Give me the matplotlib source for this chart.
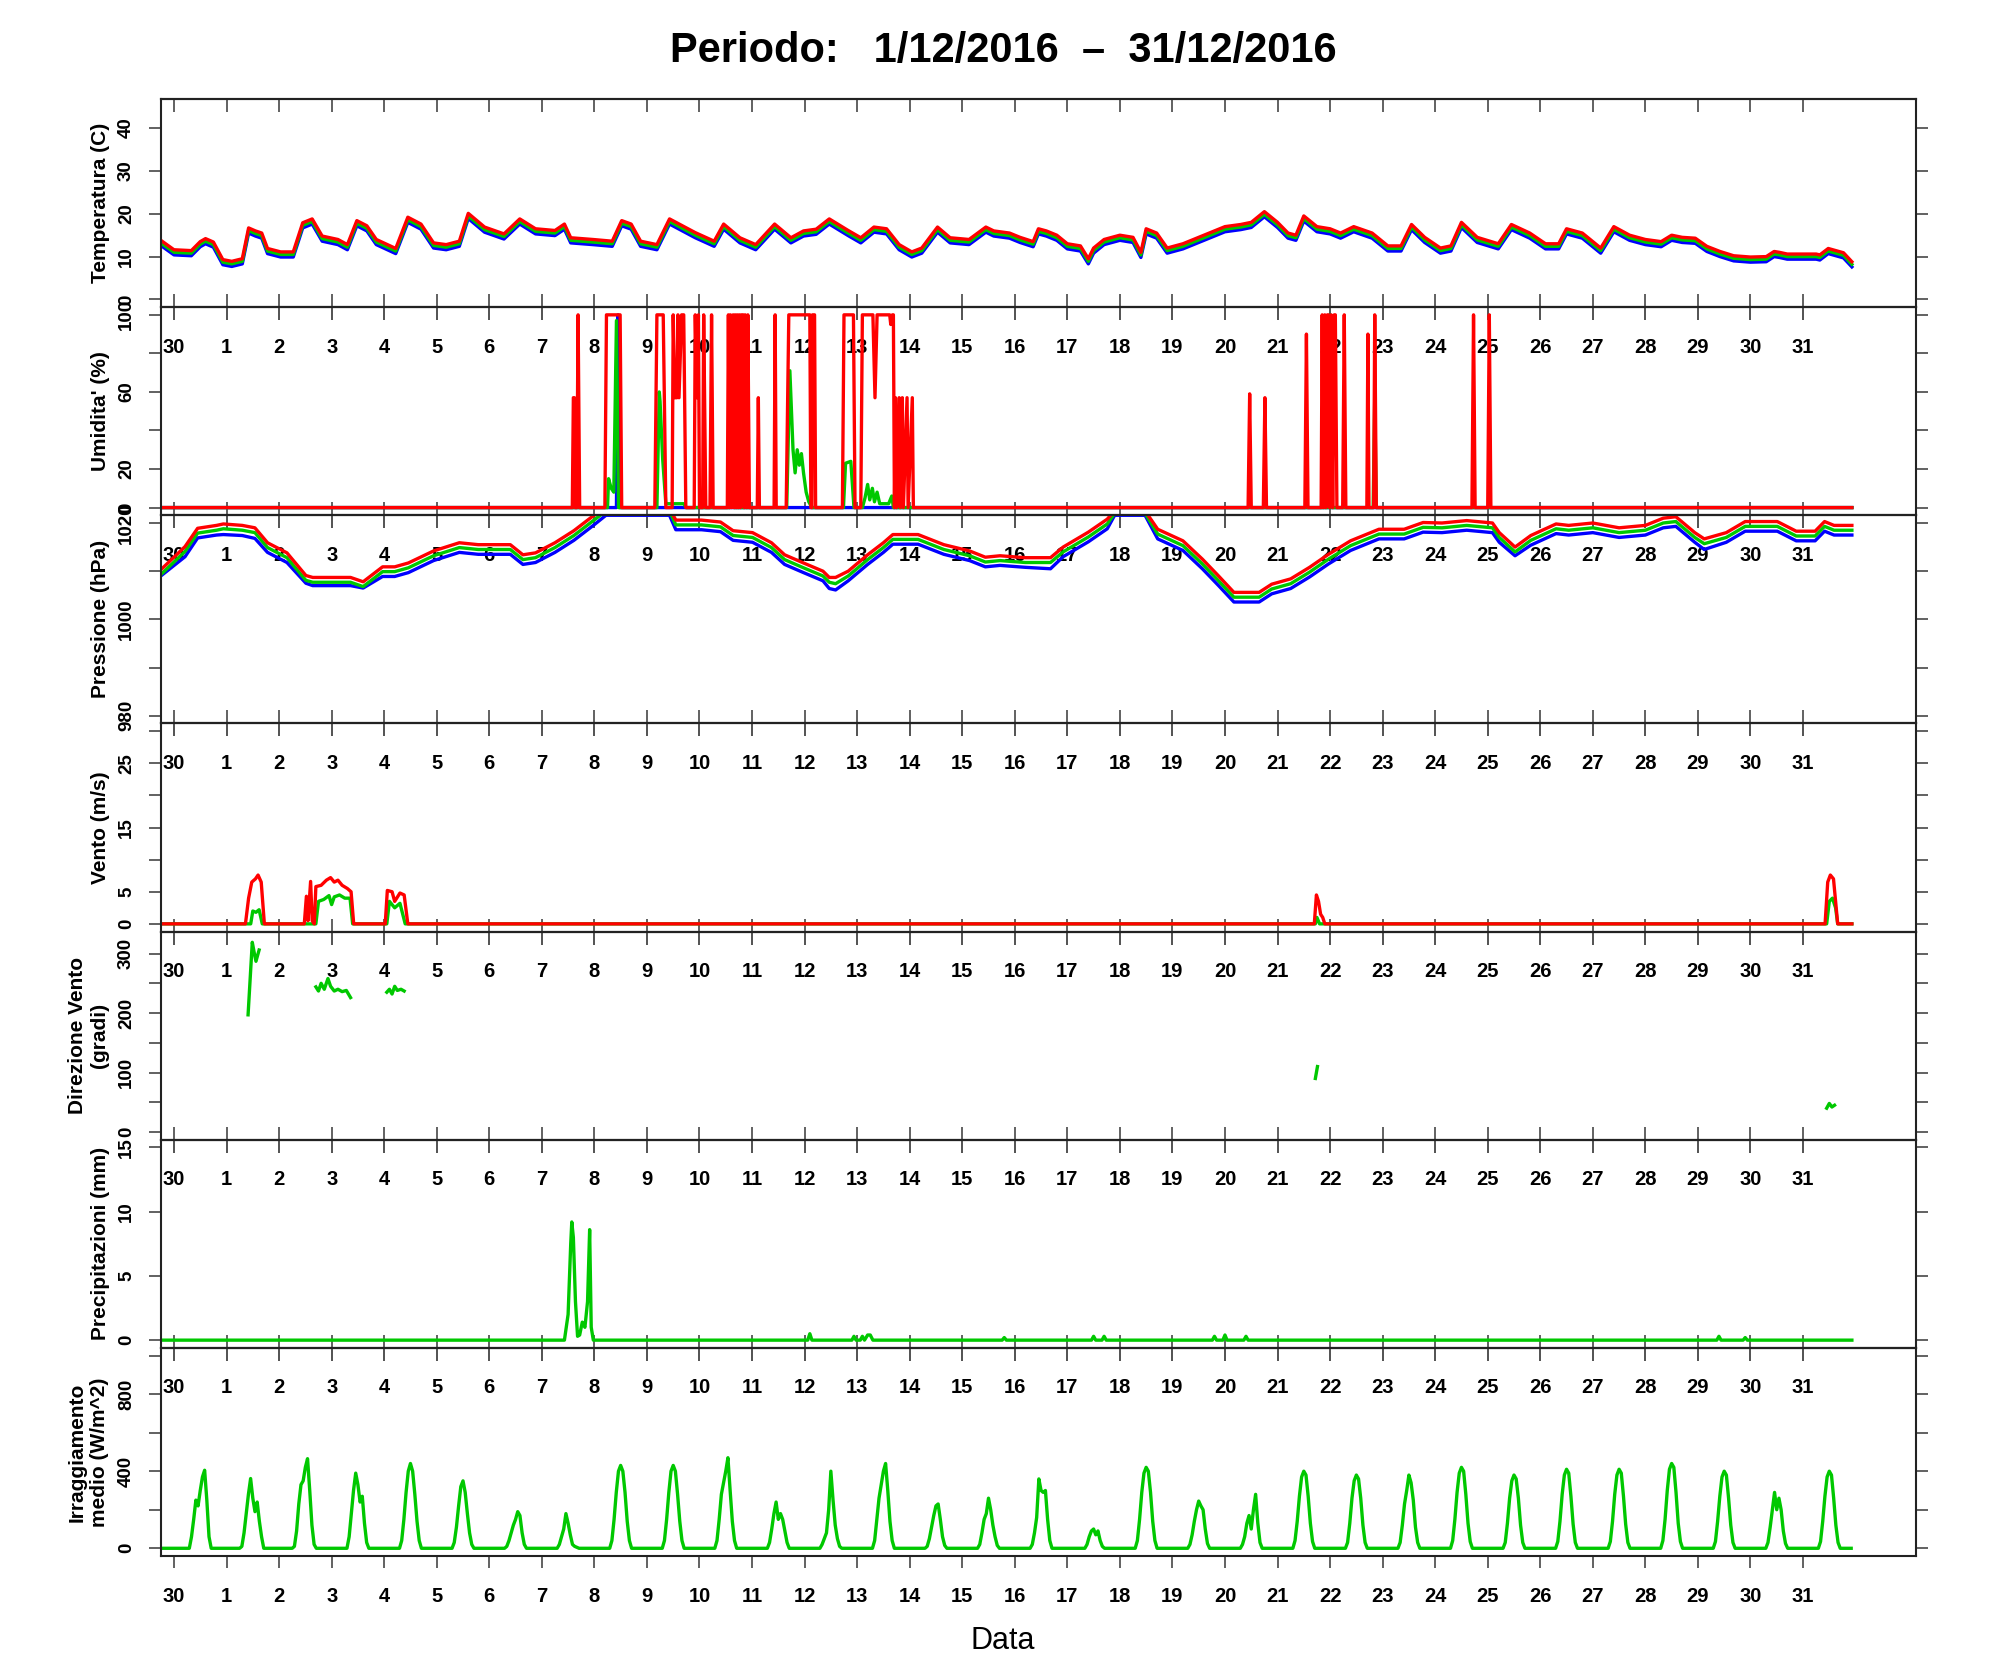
import numpy as np
import matplotlib
matplotlib.use('Agg')
import matplotlib.pyplot as plt

plt.rcParams['font.family'] = ['Liberation Sans', 'DejaVu Sans']
plt.rcParams['font.weight'] = 'bold'

# ---------------- data (x = days since 30 Nov 2016 00:00) ----------------
day_ticks = list(range(32))
day_labels = ['30'] + [str(d) for d in range(1, 32)]

temp_t = [-0.25, 0.0, 0.33, 0.5, 0.6, 0.75, 0.93, 1.1, 1.3, 1.42, 1.55, 1.67, 1.78, 2.03, 2.27, 2.45,
          2.63, 2.82, 3.12, 3.3, 3.48, 3.67, 3.85, 4.22, 4.45, 4.7, 4.94, 5.18, 5.43, 5.6, 5.91, 6.28,
          6.58, 6.88, 7.25, 7.43, 7.55, 7.97, 8.34, 8.52, 8.7, 8.88, 9.19, 9.43, 9.92, 10.28, 10.46,
          10.77, 11.07, 11.43, 11.74, 11.98, 12.22, 12.47, 12.83, 13.07, 13.32, 13.56, 13.8, 14.04,
          14.23, 14.53, 14.77, 15.13, 15.45, 15.6, 15.9, 16.1, 16.35, 16.45, 16.6, 16.8, 17.0, 17.25,
          17.4, 17.5, 17.7, 18.0, 18.25, 18.4, 18.5, 18.7, 18.9, 19.2, 19.5, 19.8, 20.0, 20.3, 20.5,
          20.75, 21.0, 21.2, 21.35, 21.5, 21.75, 22.0, 22.2, 22.45, 22.8, 23.1, 23.35, 23.55, 23.8,
          24.1, 24.3, 24.5, 24.8, 25.2, 25.45, 25.8, 26.1, 26.35, 26.5, 26.8, 27.0, 27.15, 27.4, 27.7,
          28.0, 28.3, 28.5, 28.7, 28.95, 29.17, 29.42, 29.68, 30.0, 30.3, 30.45, 30.55, 30.7, 31.25,
          31.32, 31.48, 31.77, 31.93]
temp_max = [13.8, 11.6, 11.4, 13.5, 14.2, 13.4, 9.3, 8.9, 9.5, 16.7,
            16.0, 15.5, 11.9, 11.1, 11.1, 17.9, 18.8, 14.8, 14.0, 12.8,
            18.4, 17.2, 14.0, 11.9, 19.2, 17.6, 13.2, 12.8, 13.6, 20.1,
            16.9, 15.3, 18.8, 16.5, 16.1, 17.6, 14.4, 14.0, 13.6, 18.4,
            17.6, 13.6, 12.8, 18.8, 15.6, 13.6, 17.6, 14.4, 12.8, 17.6,
            14.4, 16.0, 16.4, 18.8, 16.1, 14.4, 16.9, 16.5, 12.8, 11.1,
            12.0, 16.9, 14.4, 14.0, 16.9, 16.0, 15.5, 14.5, 13.5, 16.5,
            16.0, 15.0, 13.0, 12.5, 9.5, 12.0, 14.0, 15.0, 14.5, 11.0,
            16.5, 15.5, 12.0, 13.0, 14.5, 16.0, 17.0, 17.5, 18.0, 20.5,
            18.0, 15.5, 15.0, 19.5, 17.0, 16.5, 15.5, 17.0, 15.5, 12.5,
            12.5, 17.5, 14.5, 12.0, 12.5, 18.0, 14.5, 13.0, 17.5, 15.5,
            13.0, 13.0, 16.5, 15.5, 13.5, 12.0, 17.0, 15.0, 14.0, 13.5,
            15.0, 14.5, 14.3, 12.4, 11.2, 10.2, 9.9, 10.0, 11.2, 11.0,
            10.6, 10.6, 10.4, 11.9, 10.9, 8.8]
temp_avg = [13.2, 11.0, 10.8, 12.9, 13.6, 12.8, 8.7, 8.3, 8.9, 16.1,
            15.4, 14.9, 11.3, 10.5, 10.5, 17.3, 18.2, 14.2, 13.4, 12.2,
            17.8, 16.6, 13.4, 11.3, 18.6, 17.0, 12.6, 12.2, 13.0, 19.5,
            16.3, 14.7, 18.2, 15.9, 15.5, 17.0, 13.8, 13.4, 13.0, 17.8,
            17.0, 13.0, 12.2, 18.2, 15.0, 13.0, 17.0, 13.8, 12.2, 17.0,
            13.8, 15.4, 15.8, 18.2, 15.5, 13.8, 16.3, 15.9, 12.2, 10.5,
            11.4, 16.3, 13.8, 13.4, 16.3, 15.4, 14.9, 13.9, 12.9, 15.9,
            15.4, 14.4, 12.4, 11.9, 8.9, 11.4, 13.4, 14.4, 13.9, 10.4,
            15.9, 14.9, 11.4, 12.4, 13.9, 15.4, 16.4, 16.9, 17.4, 19.9,
            17.4, 14.9, 14.4, 18.9, 16.4, 15.9, 14.9, 16.4, 14.9, 11.9,
            11.9, 16.9, 13.9, 11.4, 11.9, 17.4, 13.9, 12.4, 16.9, 14.9,
            12.4, 12.4, 15.9, 14.9, 12.9, 11.4, 16.4, 14.4, 13.4, 12.9,
            14.4, 13.9, 13.7, 11.8, 10.6, 9.6, 9.3, 9.4, 10.6, 10.4,
            10.0, 10.0, 9.8, 11.3, 10.3, 8.2]
temp_min = [12.6, 10.4, 10.2, 12.3, 13.0, 12.2, 8.1, 7.7, 8.3, 15.5,
            14.8, 14.3, 10.7, 9.9, 9.9, 16.7, 17.6, 13.6, 12.8, 11.6,
            17.2, 16.0, 12.8, 10.7, 18.0, 16.4, 12.0, 11.6, 12.4, 18.9,
            15.7, 14.1, 17.6, 15.3, 14.9, 16.4, 13.2, 12.8, 12.4, 17.2,
            16.4, 12.4, 11.6, 17.6, 14.4, 12.4, 16.4, 13.2, 11.6, 16.4,
            13.2, 14.8, 15.2, 17.6, 14.9, 13.2, 15.7, 15.3, 11.6, 9.9,
            10.8, 15.7, 13.2, 12.8, 15.7, 14.8, 14.3, 13.3, 12.3, 15.3,
            14.8, 13.8, 11.8, 11.3, 8.3, 10.8, 12.8, 13.8, 13.3, 9.8,
            15.3, 14.3, 10.8, 11.8, 13.3, 14.8, 15.8, 16.3, 16.8, 19.3,
            16.8, 14.3, 13.8, 18.3, 15.8, 15.3, 14.3, 15.8, 14.3, 11.3,
            11.3, 16.3, 13.3, 10.8, 11.3, 16.8, 13.3, 11.8, 16.3, 14.3,
            11.8, 11.8, 15.3, 14.3, 12.3, 10.8, 15.8, 13.8, 12.8, 12.3,
            13.8, 13.3, 13.1, 11.2, 10.0, 9.0, 8.7, 8.8, 10.0, 9.8,
            9.4, 9.4, 9.2, 10.7, 9.7, 7.6]

hum_max_pts = [(-0.25, 0), (7.58, 0), (7.60, 57), (7.62, 57), (7.635, 0), (7.665, 0), (7.69, 100), (7.72, 0),
               (8.20, 0), (8.23, 100), (8.49, 100), (8.52, 0),
               (9.15, 0), (9.19, 100), (9.31, 100), (9.36, 0),
               (9.48, 0), (9.50, 100), (9.53, 57), (9.57, 57), (9.59, 100), (9.61, 57), (9.66, 100), (9.70, 100), (9.74, 0),
               (9.90, 0), (9.92, 100), (9.95, 57), (9.98, 100), (10.00, 0), (10.06, 0), (10.08, 100), (10.12, 0),
               (10.20, 0), (10.23, 100), (10.26, 0),
               (10.53, 0), (10.55, 100), (10.57, 0), (10.59, 100), (10.61, 0), (10.64, 100), (10.66, 0), (10.68, 100),
               (10.70, 0), (10.72, 100), (10.74, 0), (10.76, 100), (10.78, 0), (10.80, 100), (10.83, 100), (10.85, 0),
               (10.87, 100), (10.90, 0), (10.92, 100), (10.95, 0),
               (11.10, 0), (11.12, 57), (11.14, 0),
               (11.42, 0), (11.44, 100), (11.46, 0),
               (11.65, 0), (11.70, 100), (12.10, 100), (12.12, 0), (12.14, 0), (12.15, 100), (12.19, 100), (12.21, 0),
               (12.72, 0), (12.75, 100), (12.93, 100), (12.96, 0),
               (13.07, 0), (13.10, 100), (13.30, 100), (13.34, 57), (13.38, 100), (13.62, 100), (13.64, 95),
               (13.67, 100), (13.69, 100), (13.71, 0),
               (13.73, 57), (13.75, 0), (13.80, 57), (13.82, 0), (13.86, 57), (13.88, 0), (13.95, 57), (13.97, 0),
               (14.05, 57), (14.07, 0),
               (20.44, 0), (20.47, 59), (20.50, 0), (20.73, 0), (20.76, 57), (20.79, 0),
               (21.52, 0), (21.55, 90), (21.58, 0),
               (21.83, 0), (21.85, 100), (21.87, 0), (21.90, 100), (21.92, 0), (21.95, 100), (21.97, 100), (21.99, 0),
               (22.02, 100), (22.05, 0), (22.08, 100), (22.10, 100), (22.13, 0),
               (22.24, 0), (22.27, 100), (22.30, 0),
               (22.70, 0), (22.72, 90), (22.74, 0), (22.83, 0), (22.85, 100), (22.88, 0),
               (24.70, 0), (24.73, 100), (24.76, 0), (25.00, 0), (25.03, 100), (25.06, 0), (31.93, 0)]
hum_avg_pts = [(-0.25, 0), (8.25, 0), (8.27, 15), (8.32, 10), (8.37, 8), (8.42, 97), (8.46, 0),
               (9.19, 0), (9.235, 60), (9.25, 55), (9.30, 25), (9.36, 2), (9.70, 2), (9.75, 0),
               (10.58, 0), (10.62, 70), (10.66, 0),
               (11.66, 0), (11.72, 71), (11.78, 30), (11.82, 18), (11.86, 30), (11.90, 22), (11.94, 28),
               (11.98, 18), (12.03, 8), (12.08, 3), (12.14, 0),
               (12.74, 0), (12.78, 23), (12.88, 24), (12.94, 0),
               (13.10, 0), (13.15, 5), (13.20, 12), (13.24, 4), (13.29, 10), (13.33, 3), (13.38, 8), (13.43, 2),
               (13.60, 2), (13.66, 6), (13.69, 0),
               (21.97, 0), (22.00, 100), (22.03, 0),
               (22.82, 0), (22.85, 57), (22.88, 0), (31.93, 0)]
hum_min_pts = [(-0.25, 0), (8.42, 0), (8.45, 100), (8.48, 0), (21.98, 0), (22.00, 100), (22.02, 0), (31.93, 0)]

pres_t = [-0.24, 0.21, 0.45, 0.81, 0.94, 1.3, 1.54, 1.78, 2.15, 2.51,
          2.64, 3.36, 3.6, 3.97, 4.2, 4.46, 4.94, 5.43, 5.79, 6.4,
          6.64, 6.88, 7.25, 7.61, 7.98, 8.22, 9.43, 9.55, 10.04, 10.4,
          10.64, 11.01, 11.37, 11.62, 11.98, 12.35, 12.47, 12.59, 12.83, 13.2,
          13.5, 13.68, 14.16, 14.65, 15.14, 15.44, 15.72, 16.2, 16.68, 16.92,
          17.4, 17.76, 17.9, 18.48, 18.72, 19.2, 19.57, 19.87, 20.17, 20.65,
          20.89, 21.25, 21.61, 21.97, 22.39, 22.93, 23.41, 23.77, 24.13, 24.6,
          25.09, 25.22, 25.52, 25.82, 26.3, 26.54, 27.0, 27.5, 28.0, 28.34,
          28.58, 28.94, 29.12, 29.54, 29.9, 30.51, 30.87, 31.23, 31.41, 31.59,
          31.93]
pres_max = [1010.4, 1015.1, 1018.9, 1019.5, 1019.8, 1019.5, 1019.0, 1015.9, 1013.8, 1009.1,
            1008.7, 1008.7, 1007.8, 1010.9, 1010.9, 1011.7, 1014.2, 1015.9, 1015.5, 1015.5,
            1013.4, 1013.8, 1015.9, 1018.4, 1021.5, 1023.0, 1023.0, 1020.6, 1020.6, 1020.2,
            1018.4, 1018.0, 1015.9, 1013.4, 1011.7, 1010.0, 1008.7, 1008.7, 1010.0, 1013.4,
            1015.9, 1017.6, 1017.6, 1015.5, 1014.2, 1012.9, 1013.2, 1012.8, 1012.8, 1015.0,
            1018.1, 1020.8, 1022.5, 1022.5, 1018.7, 1016.3, 1012.5, 1009.1, 1005.6, 1005.6,
            1007.3, 1008.4, 1010.8, 1013.5, 1016.3, 1018.7, 1018.7, 1020.1, 1020.0, 1020.5,
            1020.0, 1018.0, 1015.0, 1017.4, 1019.8, 1019.5, 1020.0, 1019.0, 1019.5, 1021.0,
            1021.3, 1018.0, 1016.7, 1018.0, 1020.3, 1020.3, 1018.3, 1018.3, 1020.3, 1019.5,
            1019.5]
pres_avg = [1009.4, 1014.1, 1017.9, 1018.5, 1018.8, 1018.5, 1018.0, 1014.9, 1012.8, 1008.1,
            1007.7, 1007.7, 1006.8, 1009.9, 1009.9, 1010.7, 1013.2, 1014.9, 1014.5, 1014.5,
            1012.4, 1012.8, 1014.9, 1017.4, 1020.5, 1022.5, 1022.5, 1019.6, 1019.6, 1019.2,
            1017.4, 1017.0, 1014.9, 1012.4, 1010.7, 1009.0, 1007.7, 1007.4, 1009.0, 1012.4,
            1014.9, 1016.6, 1016.6, 1014.5, 1013.2, 1011.9, 1012.2, 1011.8, 1011.8, 1014.0,
            1017.1, 1019.8, 1022.0, 1022.0, 1017.7, 1015.3, 1011.5, 1008.1, 1004.6, 1004.6,
            1006.3, 1007.4, 1009.8, 1012.5, 1015.3, 1017.7, 1017.7, 1019.1, 1019.0, 1019.5,
            1019.0, 1017.0, 1014.0, 1016.4, 1018.8, 1018.5, 1019.0, 1018.0, 1018.5, 1020.0,
            1020.3, 1017.0, 1015.7, 1017.0, 1019.3, 1019.3, 1017.3, 1017.3, 1019.3, 1018.5,
            1018.5]
pres_min = [1009.1, 1013.0, 1016.9, 1017.5, 1017.6, 1017.4, 1016.8, 1013.9, 1011.8, 1007.5,
            1007.0, 1007.0, 1006.5, 1008.9, 1008.9, 1009.7, 1012.2, 1013.9, 1013.5, 1013.5,
            1011.4, 1011.8, 1013.9, 1016.4, 1019.5, 1021.6, 1021.6, 1018.6, 1018.6, 1018.2,
            1016.4, 1016.0, 1013.9, 1011.4, 1009.7, 1008.0, 1006.4, 1006.1, 1008.0, 1011.4,
            1013.9, 1015.6, 1015.6, 1013.5, 1012.2, 1010.9, 1011.2, 1010.8, 1010.5, 1013.0,
            1016.1, 1018.8, 1021.6, 1021.6, 1016.7, 1014.3, 1010.5, 1007.1, 1003.6, 1003.6,
            1005.3, 1006.4, 1008.8, 1011.5, 1014.3, 1016.7, 1016.7, 1018.1, 1018.0, 1018.5,
            1018.0, 1016.0, 1013.2, 1015.4, 1017.8, 1017.5, 1018.0, 1017.0, 1017.5, 1019.0,
            1019.3, 1016.0, 1014.5, 1016.0, 1018.3, 1018.3, 1016.3, 1016.3, 1018.3, 1017.5,
            1017.5]

wind_max_t = [-0.25, 1.36, 1.42, 1.48, 1.55, 1.60, 1.66, 1.72, 2.48, 2.52, 2.55, 2.60, 2.63, 2.67,
              2.70, 2.80, 2.90, 2.98, 3.05, 3.12, 3.20, 3.30, 3.37, 3.42, 4.02, 4.06, 4.15, 4.20,
              4.30, 4.38, 4.45, 21.70, 21.74, 21.78, 21.82, 21.86, 21.90, 31.42, 31.47, 31.52,
              31.58, 31.62, 31.66, 31.93]
wind_max_v = [0, 0, 4.0, 6.5, 7.0, 7.6, 6.5, 0, 0, 4.3, 0.5, 6.6, 0.5, 0,
              5.8, 6.0, 6.8, 7.2, 6.5, 6.8, 6.0, 5.5, 5.0, 0, 0, 5.2, 5.0, 3.5,
              4.8, 4.5, 0, 0, 4.5, 3.5, 1.5, 1.0, 0, 0, 6.5, 7.6,
              7.0, 3.5, 0, 0]
wind_avg_t = [-0.25, 1.46, 1.50, 1.56, 1.62, 1.68, 2.70, 2.75, 2.85, 2.95, 3.00, 3.05, 3.15, 3.25,
              3.35, 3.40, 4.05, 4.10, 4.20, 4.30, 4.40, 21.72, 21.75, 21.80, 31.45, 31.50, 31.56,
              31.62, 31.66, 31.93]
wind_avg_v = [0, 0, 2.0, 1.8, 2.2, 0, 0, 3.5, 3.8, 4.4, 3.0, 4.2, 4.5, 4.0,
              4.0, 0, 0, 3.5, 2.5, 3.2, 0, 0, 1.0, 0, 0, 3.5, 4.0,
              2.5, 0, 0]

nan = np.nan
dir_t = [1.41, 1.49, 1.53, 1.56, 1.62, nan,
         2.70, 2.75, 2.80, 2.86, 2.93, 2.98, 3.05, 3.12, 3.20, 3.28, 3.36, nan,
         4.05, 4.10, 4.15, 4.20, 4.25, 4.32, 4.38, nan,
         21.72, 21.76, nan,
         31.45, 31.50, 31.55, 31.60]
dir_v = [197, 319, 300, 287, 306, nan,
         244, 237, 250, 240, 258, 245, 237, 240, 236, 238, 226, nan,
         235, 240, 232, 245, 238, 240, 237, nan,
         90, 110, nan,
         40, 48, 42, 45]

precip_t = [-0.25, 7.43, 7.50, 7.55, 7.57, 7.60, 7.64, 7.68, 7.72, 7.77, 7.82, 7.87, 7.91, 7.94, 7.98,
            12.06, 12.10, 12.14, 12.90, 12.94, 12.98, 13.06, 13.10, 13.14, 13.20, 13.25, 13.30,
            15.76, 15.80, 15.84, 17.46, 17.50, 17.54, 17.66, 17.70, 17.74, 19.76, 19.80, 19.84,
            19.96, 20.00, 20.04, 20.36, 20.40, 20.44, 29.36, 29.40, 29.44, 29.86, 29.90, 29.94, 31.93]
precip_v = [0, 0, 2.0, 7.5, 9.2, 8.0, 3.0, 0.3, 0.4, 1.4, 1.0, 3.0, 8.6, 1.0, 0,
            0, 0.5, 0, 0, 0.3, 0, 0, 0.3, 0, 0.4, 0.4, 0,
            0, 0.2, 0, 0, 0.3, 0, 0, 0.3, 0, 0, 0.3, 0,
            0, 0.4, 0, 0, 0.3, 0, 0, 0.3, 0, 0, 0.2, 0, 0]

# hourly irradiance 07:00 .. 17:00 for each day (30 Nov, 1 Dec ... 31 Dec)
irr_hourly = [
    [0, 60, 150, 250, 220, 300, 370, 405, 250, 60, 0],
    [10, 80, 180, 280, 362, 260, 190, 240, 140, 60, 0],
    [10, 90, 230, 330, 350, 420, 465, 300, 120, 20, 0],
    [0, 60, 180, 300, 390, 330, 240, 270, 130, 30, 0],
    [0, 40, 150, 290, 400, 440, 400, 280, 140, 40, 0],
    [0, 30, 110, 220, 320, 350, 290, 180, 80, 20, 0],
    [0, 10, 40, 80, 120, 150, 190, 170, 80, 20, 0],
    [0, 20, 60, 100, 180, 130, 70, 20, 10, 5, 0],
    [0, 40, 150, 290, 400, 430, 400, 290, 140, 40, 0],
    [0, 40, 150, 290, 400, 430, 400, 280, 140, 40, 0],
    [0, 40, 150, 280, 340, 400, 470, 300, 140, 40, 0],
    [0, 30, 100, 180, 240, 150, 180, 150, 90, 30, 0],
    [0, 20, 50, 80, 200, 400, 250, 120, 50, 10, 0],
    [0, 40, 150, 260, 330, 400, 440, 300, 140, 40, 0],
    [0, 10, 50, 110, 170, 220, 230, 150, 60, 15, 0],
    [0, 20, 80, 150, 180, 260, 200, 120, 60, 15, 0],
    [0, 20, 80, 160, 360, 300, 290, 300, 150, 40, 0],
    [0, 0, 20, 60, 90, 100, 70, 90, 40, 10, 0],
    [0, 40, 150, 290, 390, 420, 400, 290, 140, 40, 0],
    [0, 20, 70, 140, 200, 245, 220, 200, 100, 25, 0],
    [0, 20, 60, 130, 170, 100, 200, 280, 130, 30, 0],
    [0, 40, 140, 270, 370, 400, 380, 270, 130, 35, 0],
    [0, 30, 130, 260, 350, 380, 360, 260, 120, 30, 0],
    [0, 30, 120, 230, 300, 380, 340, 250, 110, 30, 0],
    [0, 40, 150, 290, 390, 420, 400, 280, 130, 35, 0],
    [0, 30, 130, 260, 350, 380, 360, 260, 120, 30, 0],
    [0, 35, 140, 280, 380, 410, 390, 270, 125, 30, 0],
    [0, 35, 140, 280, 380, 410, 390, 270, 125, 30, 0],
    [0, 40, 150, 300, 410, 440, 420, 290, 130, 35, 0],
    [0, 35, 140, 270, 370, 400, 380, 260, 120, 30, 0],
    [0, 30, 110, 200, 290, 200, 260, 200, 90, 25, 0],
    [0, 35, 140, 270, 370, 400, 380, 260, 120, 30, 0],
]

irr_hours = np.arange(-6, 767)
irr_vals = np.zeros(len(irr_hours))
for d, vals in enumerate(irr_hourly):
    for k, v in enumerate(vals):
        irr_vals[d * 24 + 7 + k + 6] = v
irr_t = irr_hours / 24.0

# ---------------- figure ----------------
W, H = 1991, 1680
fig = plt.figure(figsize=(W / 100, H / 100), dpi=100, facecolor='white')
PT = 0.72
L_PX, R_PX, T_PX, B_PX = 161, 1916, 99, 1556
NP = 7
PH = (B_PX - T_PX) / NP
XMIN, XMAX = -0.247, 33.15

RED, GREEN, BLUE = '#FF0000', '#00C800', '#0000FF'
LW = 2.4
TICKC = '#555555'

def pts(p):
    return [a for a, b in p], [b for a, b in p]

panels = [
    dict(ylim=(-1.8, 46.8), yt=[0, 10, 20, 30, 40], yl=['0', '10', '20', '30', '40'],
         lab='Temperatura (C)', lx=-0.0342),
    dict(ylim=(-4, 104), yt=[0, 20, 40, 60, 80, 100], yl=['0', '20', '', '60', '', '100'],
         lab="Umidita' (%)", lx=-0.0342),
    dict(ylim=(978.4, 1021.6), yt=[980, 990, 1000, 1010, 1020], yl=['980', '', '1000', '', '1020'],
         lab='Pressione (hPa)', lx=-0.0342),
    dict(ylim=(-1.2, 31.2), yt=[0, 5, 10, 15, 20, 25, 30], yl=['0', '5', '', '15', '', '25', ''],
         lab='Vento (m/s)', lx=-0.0342),
    dict(ylim=(-13, 337), yt=[0, 50, 100, 150, 200, 250, 300], yl=['0', '', '100', '', '200', '', '300'],
         lab='Direzione Vento\n(gradi)', lx=-0.0413),
    dict(ylim=(-0.6, 15.6), yt=[0, 5, 10, 15], yl=['0', '5', '10', '15'],
         lab='Precipitazioni (mm)', lx=-0.0342),
    dict(ylim=(-40, 1040), yt=[0, 200, 400, 600, 800, 1000], yl=['0', '', '400', '', '800', ''],
         lab='Irraggiamento\nmedio (W/m^2)', lx=-0.0413),
]

axes = []
for i, p in enumerate(panels):
    top = T_PX + i * PH
    ax = fig.add_axes([L_PX / W, 1 - (top + PH) / H, (R_PX - L_PX) / W, PH / H])
    ax.set_facecolor('none')
    ax.set_xlim(XMIN, XMAX)
    ax.set_ylim(*p['ylim'])
    for s in ax.spines.values():
        s.set_linewidth(1.5)
        s.set_color('#222222')
    ax.set_xticks(day_ticks)
    ax.set_xticklabels(day_labels)
    last = (i == NP - 1)
    ax.tick_params(axis='x', bottom=True, top=False,
                   direction='out' if last else 'inout',
                   length=(12 if last else 26) * PT, width=1.3, color=TICKC,
                   labelsize=14.5, pad=(13.4 if last else 12.7))
    sec = ax.secondary_xaxis('top')
    sec.set_xticks(day_ticks, labels=[''] * len(day_ticks))
    sec.tick_params(axis='x', direction='in', length=13 * PT, width=1.3, color=TICKC)
    sec.spines['top'].set_linewidth(1.5)
    sec.spines['top'].set_color('#222222')

    ax.set_yticks(p['yt'])
    ax.set_yticklabels(p['yl'])
    ax.tick_params(axis='y', left=True, right=True, labelleft=True, labelright=False,
                   direction='out', length=12 * PT, width=1.3, color=TICKC,
                   labelsize=13.5, pad=10.0, labelrotation=90)
    for lab in ax.get_yticklabels():
        lab.set_va('center')
        lab.set_ha('right')
    ax.text(p['lx'], 0.5, p['lab'], transform=ax.transAxes, rotation=90,
            ha='center', va='center', fontsize=15, fontweight='bold',
            linespacing=1.25, multialignment='center')
    axes.append(ax)

kw = dict(lw=LW, solid_joinstyle='round')
a = axes[0]
a.plot(temp_t, temp_min, color=BLUE, **kw)
a.plot(temp_t, temp_avg, color=GREEN, **kw)
a.plot(temp_t, temp_max, color=RED, **kw)

a = axes[1]
for series, c in ((hum_min_pts, BLUE), (hum_avg_pts, GREEN), (hum_max_pts, RED)):
    tx, vy = pts(series)
    a.plot(tx, vy, color=c, **kw)

a = axes[2]
a.plot(pres_t, pres_min, color=BLUE, **kw)
a.plot(pres_t, pres_avg, color=GREEN, **kw)
a.plot(pres_t, pres_max, color=RED, **kw)

a = axes[3]
a.plot(wind_avg_t, wind_avg_v, color=GREEN, **kw)
a.plot(wind_max_t, wind_max_v, color=RED, **kw)

axes[4].plot(dir_t, dir_v, color=GREEN, **kw)
axes[5].plot(precip_t, precip_v, color=GREEN, **kw)
axes[6].plot(irr_t, irr_vals, color=GREEN, **kw)

fig.text(1003 / W, 1 - 51 / H, 'Periodo:   1/12/2016  \u2013  31/12/2016',
         ha='center', va='center', fontsize=30, fontweight='bold')
fig.text(1003 / W, 1 - 1641 / H, 'Data', ha='center', va='center',
         fontsize=22, fontweight='normal')

fig.savefig('out.png', dpi=100, facecolor='white')
